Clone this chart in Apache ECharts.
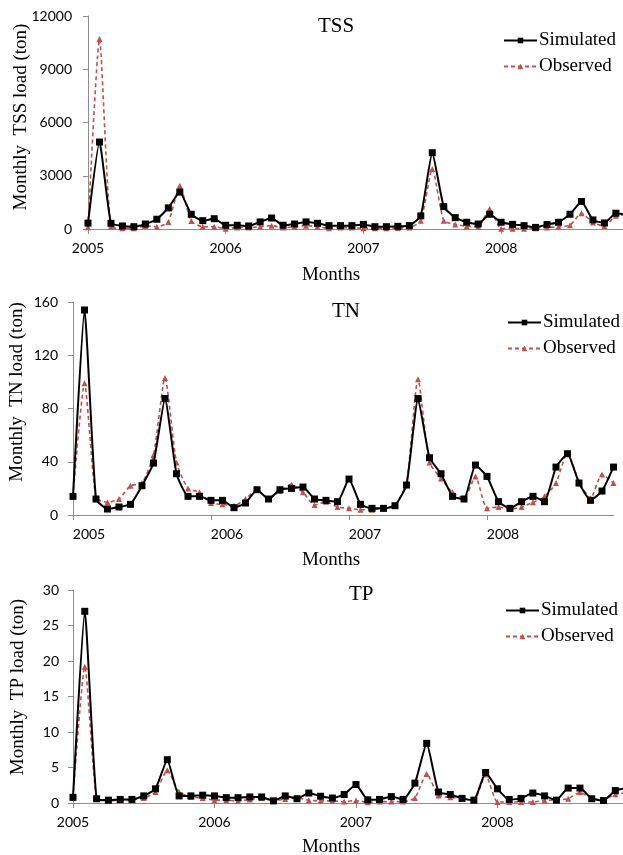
<!DOCTYPE html>
<html>
<head>
<meta charset="utf-8">
<script src="https://cdn.jsdelivr.net/npm/echarts@6/dist/echarts.min.js"></script>
<style>
  html, body { margin: 0; padding: 0; background: #fff; }
  #chart { width: 623px; height: 855px; }
</style>
</head>
<body>
<div id="chart"></div>
<script>
// month index 0 = Jan 2005
const yearTicks = [0, 12, 24, 36];
const yearLabels = ['2005', '2006', '2007', '2008'];
const seriesNames = ['Simulated', 'Observed'];

const tssSimulated = [330, 4900, 320, 170, 130, 280, 550, 1190, 2080, 830, 470, 580, 210, 210, 170, 400, 620, 210, 280, 400,
  320, 190, 190, 190, 260, 130, 130, 150, 190, 740, 4300, 1260, 640, 380, 280, 830, 380, 260, 190, 90,
  250, 380, 830, 1550, 510, 340, 890, 800];
const tssObserved = [100, 10700, 130, 40, 40, 170, 130, 400, 2430, 450, 130, 130, 20, 80, 80, 130, 190, 80, 130, 190,
  130, 40, 80, 80, 40, 40, 40, 60, 80, 470, 3380, 470, 260, 150, 130, 1130, 20, 20, 20, 40,
  80, 130, 210, 890, 360, 170, 740, 800];

const tnSimulated = [14, 154, 12, 4.5, 6, 8, 22, 39, 87.5, 31, 14, 14, 11, 11, 5.5, 9, 19, 12, 19, 20,
  21, 12, 11, 10, 27, 8, 5, 5, 7, 22.5, 87.5, 43, 31, 14, 12, 37.5, 29, 10, 5, 10,
  14, 10, 36, 46, 24, 11, 18, 36];
const tnObserved = [14, 99, 13, 9.5, 12, 22, 24, 45, 103, 39.5, 20, 17, 9, 8, 7, 12, 19, 12, 18, 23,
  17, 7.5, 10, 6, 5, 4, 4, 5, 7.5, 24, 102, 39.5, 27.5, 17, 12.5, 29, 5, 6, 4.5, 6,
  9.5, 14, 24, 47, 25, 12.5, 30.5, 24];

const tpSimulated = [0.8, 27, 0.6, 0.4, 0.5, 0.5, 1.0, 2.0, 6.1, 1.0, 1.0, 1.1, 1.0, 0.75, 0.75, 0.85, 0.85, 0.3, 1.0, 0.6,
  1.4, 0.95, 0.7, 1.2, 2.6, 0.45, 0.5, 0.9, 0.5, 2.8, 8.4, 1.55, 1.2, 0.65, 0.4, 4.3, 2.0, 0.5, 0.65, 1.4,
  1.0, 0.4, 2.1, 2.1, 0.6, 0.35, 1.75, 2.1];
const tpObserved = [0.7, 19.2, 0.7, 0.3, 0.4, 0.5, 0.7, 1.55, 4.6, 1.55, 0.85, 0.7, 0.4, 0.4, 0.3, 0.5, 0.7, 0.3, 0.55, 0.7,
  0.4, 0.3, 0.3, 0.2, 0.35, 0.1, 0.2, 0.2, 0.2, 0.7, 4.1, 1.05, 0.8, 0.6, 0.35, 4.0, 0.15, 0.15, 0.15, 0.15,
  0.35, 0.45, 0.6, 1.5, 0.65, 0.45, 1.25, 1.4];

const serif = 'Liberation Serif';
const sans = 'Lato';
const axisGrey = '#8c8c8c';
const obsRed = '#C0504D';

// layout of the three stacked panels
const panels = [
  { title: 'TSS', sim: tssSimulated, obs: tssObserved, yMax: 12000, yStep: 3000,
    left: 88, top: 16, width: 535, height: 213, xMax: 46.62, labelMargin: 16, xLabelShift: 0,
    titleLeft: 318, titleTop: 16, legendLeft: 503, legendTop: 31, monthsY: 275, nameX: 21, nameY: 117 },
  { title: 'TN', sim: tnSimulated, obs: tnObserved, yMax: 160, yStep: 40,
    left: 73, top: 302, width: 540.5, height: 213, xMax: 47, labelMargin: 15, xLabelShift: 32,
    titleLeft: 332, titleTop: 301, legendLeft: 507, legendTop: 313, monthsY: 560, nameX: 17, nameY: 392 },
  { title: 'TP', sim: tpSimulated, obs: tpObserved, yMax: 30, yStep: 5,
    left: 73, top: 590, width: 550, height: 213, xMax: 46.65, labelMargin: 14, xLabelShift: 0,
    titleLeft: 349, titleTop: 584, legendLeft: 505, legendTop: 601, monthsY: 847, nameX: 18, nameY: 687 },
];

const toPoints = (values) => values.map((v, i) => [i, v]);

const option = {
  animation: false,
  backgroundColor: '#fff',
  title: panels.map((p) => ({
    text: p.title,
    left: p.titleLeft,
    top: p.titleTop,
    padding: 0,
    textStyle: { fontFamily: serif, fontSize: 21, fontWeight: 'normal', color: '#000' },
  })),
  legend: panels.map((p) => ({
    data: seriesNames,
    orient: 'vertical',
    left: p.legendLeft,
    top: p.legendTop,
    padding: 0,
    itemGap: 7,
    itemWidth: 33,
    itemHeight: 7,
    selectedMode: false,
    textStyle: { fontFamily: serif, fontSize: 19, color: '#000', padding: [0, 0, 0, -3] },
  })),
  grid: panels.map((p) => ({ left: p.left, top: p.top, width: p.width, height: p.height })),
  xAxis: panels.map((p, i) => ({
    type: 'value',
    gridIndex: i,
    min: 0,
    max: p.xMax,
    splitLine: { show: false },
    axisLine: { lineStyle: { color: axisGrey, width: 1 } },
    axisTick: { customValues: yearTicks, length: 5, lineStyle: { color: axisGrey } },
    axisLabel: {
      customValues: yearTicks,
      formatter: (v) => yearLabels[yearTicks.indexOf(v)] || '',
      fontFamily: sans,
      fontSize: 14,
      color: '#000',
      margin: 12,
      padding: [0, 0, 0, p.xLabelShift],
    },
  })),
  yAxis: panels.map((p, i) => ({
    type: 'value',
    gridIndex: i,
    min: 0,
    max: p.yMax,
    interval: p.yStep,
    splitLine: { show: false },
    axisLine: { show: true, lineStyle: { color: axisGrey, width: 1 } },
    axisTick: { show: true, length: 5, lineStyle: { color: axisGrey } },
    axisLabel: { formatter: (v) => `${v}`, fontFamily: sans, fontSize: 14, color: '#000', margin: p.labelMargin },
  })),
  series: panels.flatMap((p, i) => [
    {
      name: 'Observed',
      type: 'line',
      xAxisIndex: i,
      yAxisIndex: i,
      data: toPoints(p.obs),
      smooth: 0.2,
      symbol: 'triangle',
      symbolSize: 6,
      itemStyle: { color: obsRed },
      lineStyle: { color: obsRed, width: 1.6, type: [4, 3] },
      z: 2,
    },
    {
      name: 'Simulated',
      type: 'line',
      xAxisIndex: i,
      yAxisIndex: i,
      data: toPoints(p.sim),
      smooth: 0.15,
      symbol: 'rect',
      symbolSize: 7,
      itemStyle: { color: '#000' },
      lineStyle: { color: '#000', width: 2 },
      z: 3,
    },
  ]),
  graphic: panels.flatMap((p) => [
    {
      type: 'text',
      x: 331,
      y: p.monthsY,
      style: { text: 'Months', fontFamily: serif, fontSize: 19, fill: '#000', align: 'center', verticalAlign: 'middle' },
    },
    {
      type: 'text',
      x: p.nameX,
      y: p.nameY,
      rotation: Math.PI / 2,
      style: { text: `Monthly  ${p.title} load (ton)`, fontFamily: serif, fontSize: 19, fill: '#000', align: 'center', verticalAlign: 'middle' },
    },
  ]),
};

const chart = echarts.init(document.getElementById('chart'), null, { renderer: 'canvas' });
chart.setOption(option);
</script>
</body>
</html>
